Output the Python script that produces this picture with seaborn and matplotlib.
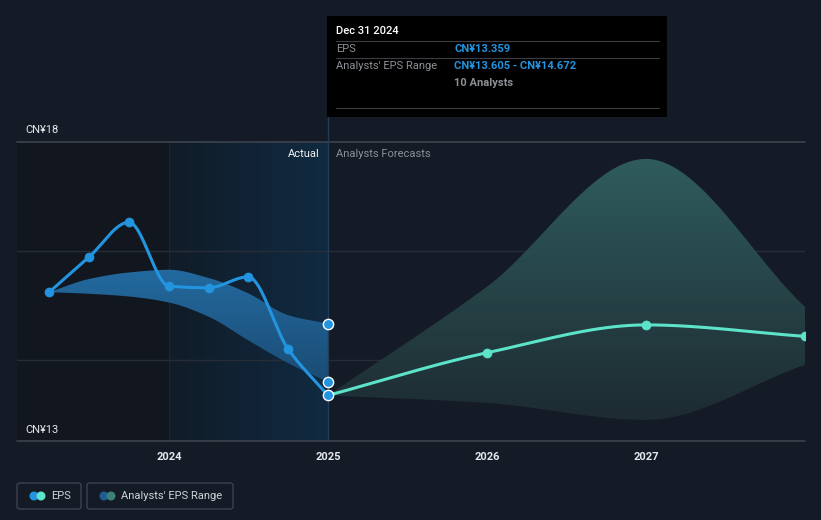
import numpy as np
import pandas as pd
import matplotlib
matplotlib.use("Agg")
import matplotlib.pyplot as plt
from matplotlib.colors import LinearSegmentedColormap
from matplotlib.patches import Rectangle, FancyBboxPatch, Ellipse
from matplotlib.lines import Line2D
import seaborn as sns

# Data
actual_dates = ["2023-03-31", "2023-06-30", "2023-09-30", "2023-12-31",
                "2024-03-31", "2024-06-30", "2024-09-30", "2024-12-31"]
actual_eps = [15.25, 15.89, 16.53, 15.36, 15.33, 15.53, 14.21, 13.359]
actual_low = [15.25, 15.22, 15.17, 15.06, 14.80, 14.37, 13.95, 13.605]
actual_high = [15.25, 15.49, 15.61, 15.66, 15.51, 15.23, 14.83, 14.672]

forecast_dates = ["2024-12-31", "2025-12-31", "2026-12-31", "2027-12-31"]
forecast_eps = [13.359, 14.14, 14.65, 14.44]
forecast_low = [13.359, 13.22, 12.91, 13.92]
forecast_high = [13.359, 15.35, 17.69, 14.98]

year_ticks = [2024, 2025, 2026, 2027]
y_labels = ["CN¥18", "CN¥13"]

# Colours
BG = "#151b26"
PAST_BG = "#12171f"
EPS_BLUE = "#2394df"
EPS_AQUA = "#5ce3c9"
GRID = "#262d38"
AXLINE = "#3d434d"


def to_year(dates):
    d = pd.to_datetime(pd.Series(dates))
    days = np.where(d.dt.is_leap_year, 366, 365)
    return (d.dt.year + d.dt.dayofyear / days).to_numpy()


def smooth(x, y, n=300):
    # monotone cubic (like d3 curveMonotoneX)
    x = np.asarray(x, float)
    y = np.asarray(y, float)
    h = np.diff(x)
    d = np.diff(y) / h
    m = np.zeros_like(y)
    m[0], m[-1] = d[0], d[-1]
    for i in range(1, len(y) - 1):
        if d[i - 1] * d[i] <= 0:
            m[i] = 0
        else:
            w1 = 2 * h[i] + h[i - 1]
            w2 = h[i] + 2 * h[i - 1]
            m[i] = (w1 + w2) / (w1 / d[i - 1] + w2 / d[i])
    xs = np.linspace(x[0], x[-1], n)
    idx = np.clip(np.searchsorted(x, xs, side="right") - 1, 0, len(h) - 1)
    t = (xs - x[idx]) / h[idx]
    h00 = 2 * t**3 - 3 * t**2 + 1
    h10 = t**3 - 2 * t**2 + t
    h01 = -2 * t**3 + 3 * t**2
    h11 = t**3 - t**2
    ys = h00 * y[idx] + h10 * h[idx] * m[idx] + h01 * y[idx + 1] + h11 * h[idx] * m[idx + 1]
    return xs, ys


def gradient_band(ax, x, lo, hi, c_top, c_bot, ytop, ybot, z):
    xs, ls = smooth(x, lo)
    _, hs = smooth(x, hi)
    poly = ax.fill_between(xs, ls, hs, color="none", lw=0)
    cmap = LinearSegmentedColormap.from_list("g", [c_top, c_bot])
    grad = np.linspace(0, 1, 256).reshape(-1, 1)
    im = ax.imshow(grad, aspect="auto", cmap=cmap, origin="upper",
                   extent=[xs.min(), xs.max(), ybot, ytop], zorder=z)
    im.set_clip_path(poly.get_paths()[0], transform=ax.transData)


ax_x = to_year(actual_dates)
fc_x = to_year(forecast_dates)

sns.set_style("dark")
plt.rcParams["font.family"] = ["Roboto", "DejaVu Sans"]

fig = plt.figure(figsize=(8.21, 5.2), dpi=100, facecolor=BG)
ax = fig.add_axes([17 / 821, 79 / 520, 788 / 821, 299 / 520])
ax.set_facecolor(BG)

XMIN, XMAX = 2024 - 152 / 159, 2028.0
YTOP = 18.0
YBOT = 18.0 - 299 / 54.6

# background panels
ax.axvspan(XMIN, 2024.0, color=PAST_BG, lw=0, zorder=0)
hl = LinearSegmentedColormap.from_list("hl", ["#101c27", "#112a41"])
ax.imshow(np.linspace(0, 1, 256).reshape(1, -1), aspect="auto", cmap=hl,
          extent=[2024.0, 2025.0, YBOT, YTOP], zorder=0.5)
ax.axvline(2024.0, color="#15263a", lw=1, zorder=0.6)

# grid lines
for g in [16, 14]:
    ax.axhline(g, color=GRID, lw=1, zorder=1)
ax.axhline(18, color=AXLINE, lw=1.2, zorder=1, clip_on=False)
ax.axhline(YBOT, color=AXLINE, lw=1.2, zorder=1, clip_on=False)

# bands
gradient_band(ax, ax_x, actual_low, actual_high, "#236a9f", "#1a4a72", 15.7, 13.5, 2)
gradient_band(ax, fc_x, forecast_low, forecast_high, "#2f5c5c", "#1d2b32", 17.7, 12.9, 2)

# lines
sx, sy = smooth(ax_x, actual_eps)
sns.lineplot(x=sx, y=sy, color=EPS_BLUE, lw=2.2, ax=ax, zorder=4, sort=False)
fx, fy = smooth(fc_x, forecast_eps)
sns.lineplot(x=fx, y=fy, color=EPS_AQUA, lw=2.2, ax=ax, zorder=4, sort=False)

sns.scatterplot(x=ax_x[:-1], y=actual_eps[:-1], color=EPS_BLUE, s=42,
                edgecolor=EPS_BLUE, ax=ax, zorder=5, clip_on=False)
sns.scatterplot(x=fc_x[1:], y=forecast_eps[1:], color=EPS_AQUA, s=42,
                edgecolor=EPS_AQUA, ax=ax, zorder=5, clip_on=True)
sns.scatterplot(x=[ax_x[-1]] * 3, y=[actual_eps[-1], actual_low[-1], actual_high[-1]],
                color=EPS_BLUE, s=55, edgecolor="white", linewidth=1, ax=ax, zorder=6)

# vertical marker line
ax.axvline(ax_x[-1], color="#1f3d57", lw=1, zorder=3)

ax.set_xlim(XMIN, XMAX)
ax.set_ylim(YBOT, YTOP)
ax.set_xticks(year_ticks)
ax.set_xticklabels([str(y) for y in year_ticks], color="#e6e8eb", fontsize=8, fontweight="bold")
ax.tick_params(axis="x", length=4, color=AXLINE, pad=4)
ax.set_yticks([])
ax.grid(False)
for s in ax.spines.values():
    s.set_visible(False)

# y labels
fig.text(25 / 821, 1 - 130 / 520, y_labels[0], color="#e6e8eb", fontsize=8, va="center")
fig.text(25 / 821, 1 - 430 / 520, y_labels[1], color="#e6e8eb", fontsize=8, va="center")

# Actual / Forecast labels
fig.text(320 / 821, 1 - 154 / 520, "Actual", color="#f0f2f4", fontsize=8, ha="right", va="center")
fig.text(336 / 821, 1 - 154 / 520, "Analysts Forecasts", color="#8a8f96", fontsize=8, ha="left", va="center")

# line from tooltip to axes top
fig.add_artist(Line2D([327.5 / 821, 327.5 / 821], [1 - 117 / 520, 1 - 142 / 520],
                      color="#1f3d57", lw=1))

# tooltip
fig.add_artist(Rectangle((327 / 821, 1 - 117 / 520), 340 / 821, 101 / 520,
                         facecolor="black", edgecolor="none"))
fig.text(336 / 821, 1 - 31 / 520, "Dec 31 2024", color="white", fontsize=8, va="center",
         fontweight="medium")
for yy in [41, 58, 108]:
    fig.add_artist(Line2D([336 / 821, 659 / 821], [1 - yy / 520] * 2, color="#3a3d42", lw=0.8))
fig.text(336 / 821, 1 - 49 / 520, "EPS", color="#8c9096", fontsize=8, va="center")
fig.text(454 / 821, 1 - 49 / 520, "CN¥13.359", color=EPS_BLUE, fontsize=8, va="center", fontweight="bold")
fig.text(336 / 821, 1 - 66 / 520, "Analysts' EPS Range", color="#8c9096", fontsize=8, va="center")
fig.text(454 / 821, 1 - 66 / 520, "CN¥13.605 - CN¥14.672", color=EPS_BLUE, fontsize=8,
         va="center", fontweight="bold")
fig.text(454 / 821, 1 - 83 / 520, "10 Analysts", color="#8c9096", fontsize=8, va="center", fontweight="bold")


# legend boxes
def legend_item(x0, w, label, c1, c2):
    fig.add_artist(FancyBboxPatch((x0 / 821, 1 - 509 / 520), w / 821, 26 / 520,
                                  boxstyle="round,pad=0,rounding_size=0.004",
                                  facecolor="none", edgecolor="#3d434d", lw=1))
    cy = 1 - 496 / 520
    for cx, col in [(x0 + 17, c1), (x0 + 24, c2)]:
        fig.add_artist(Ellipse((cx / 821, cy), 9 / 821, 9 / 520, facecolor=col, edgecolor="none"))
    fig.text((x0 + 34) / 821, cy, label, color="#d0d3d8", fontsize=8, va="center")


legend_item(17, 64, "EPS", EPS_BLUE, EPS_AQUA)
legend_item(87, 146, "Analysts' EPS Range", "#1f5e8f", "#3b7f78")

fig.savefig("out.png", dpi=100, facecolor=BG)
